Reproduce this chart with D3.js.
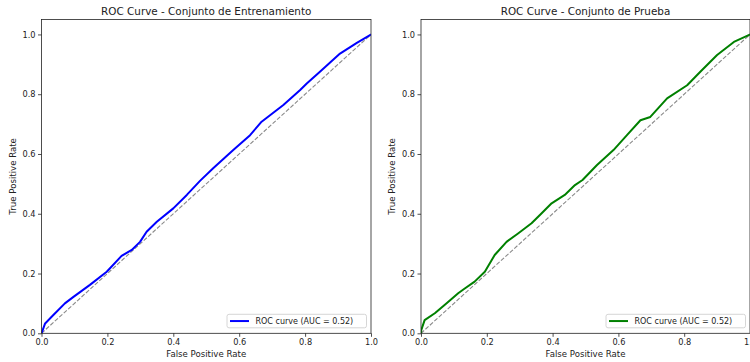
<!DOCTYPE html>
<html>
<head>
<meta charset="utf-8">
<script src="https://cdn.jsdelivr.net/npm/d3@7"></script>
<style>
  html, body { margin: 0; padding: 0; background: #fff; }
  svg { display: block; }
  text { font-family: "DejaVu Sans", sans-serif; fill: #222; }
</style>
</head>
<body>
<svg id="chart" width="750" height="362"></svg>
<script>
// ROC curve, training set
const trainFpr = [0, 0.011, 0.036, 0.071, 0.097, 0.147, 0.198, 0.243, 0.274, 0.299, 0.319, 0.350, 0.400, 0.441, 0.481,
                  0.521, 0.582, 0.633, 0.668, 0.734, 0.785, 0.805, 0.845, 0.906, 0.957, 0.997, 1.0];
const trainTpr = [0, 0.033, 0.061, 0.100, 0.122, 0.162, 0.206, 0.259, 0.279, 0.306, 0.340, 0.373, 0.418, 0.463, 0.510,
                  0.552, 0.613, 0.663, 0.708, 0.764, 0.814, 0.836, 0.875, 0.936, 0.972, 0.998, 1.0];

// ROC curve, test set
const testFpr = [0, 0.001, 0.011, 0.042, 0.077, 0.113, 0.133, 0.163, 0.194, 0.224, 0.260, 0.295, 0.336, 0.366, 0.397,
                 0.437, 0.468, 0.491, 0.535, 0.585, 0.626, 0.667, 0.697, 0.748, 0.809, 0.849, 0.900, 0.951, 0.996, 1.0];
const testTpr = [0, 0.011, 0.044, 0.067, 0.100, 0.134, 0.150, 0.173, 0.206, 0.262, 0.306, 0.334, 0.368, 0.401, 0.435,
                 0.463, 0.496, 0.513, 0.563, 0.613, 0.663, 0.713, 0.724, 0.786, 0.830, 0.875, 0.931, 0.975, 0.998, 1.0];

const aucValues = [0.52, 0.52];
const panelTitles = ["ROC Curve - Conjunto de Entrenamiento", "ROC Curve - Conjunto de Prueba"];
const tickValues = [0, 0.2, 0.4, 0.6, 0.8, 1.0];
const xLabel = "False Positive Rate";
const yLabel = "True Positive Rate";

const svg = d3.select("#chart");

const panels = [
  { left: 41.5, right: 371, fpr: trainFpr, tpr: trainTpr, color: "#0000ff", title: panelTitles[0], auc: aucValues[0] },
  { left: 421,  right: 750, fpr: testFpr,  tpr: testTpr,  color: "#008000", title: panelTitles[1], auc: aucValues[1] }
];
const plotTop = 19.5, plotBottom = 333.3;

panels.forEach(p => {
  const x = d3.scaleLinear().domain([0, 1]).range([p.left, p.right]);
  const y = d3.scaleLinear().domain([0, 1.05]).range([plotBottom, plotTop]);
  const g = svg.append("g");

  // chance diagonal
  g.append("line")
    .attr("x1", x(0)).attr("y1", y(0)).attr("x2", x(1)).attr("y2", y(1))
    .attr("stroke", "#8a8a8a").attr("stroke-width", 1.1)
    .attr("stroke-dasharray", "4.2,1.8");

  // ROC curve
  const pts = p.fpr.map((f, i) => [f, p.tpr[i]]);
  const clipId = "clip" + Math.round(p.left);
  svg.append("clipPath").attr("id", clipId).append("rect")
    .attr("x", p.left).attr("y", plotTop).attr("width", p.right - p.left).attr("height", plotBottom - plotTop);
  g.append("path")
    .attr("clip-path", `url(#${clipId})`)
    .attr("d", d3.line().x(d => x(d[0])).y(d => y(d[1]))(pts))
    .attr("fill", "none").attr("stroke", p.color).attr("stroke-width", 2)
    .attr("stroke-linejoin", "round");

  // axes
  const xAxis = g.append("g").attr("transform", `translate(0,${plotBottom})`)
    .call(d3.axisBottom(x).tickValues(tickValues).tickFormat(d3.format(".1f")).tickSize(3.5).tickPadding(2.5));
  const yAxis = g.append("g").attr("transform", `translate(${p.left},0)`)
    .call(d3.axisLeft(y).tickValues(tickValues).tickFormat(d3.format(".1f")).tickSize(3.5).tickPadding(2.5));
  [xAxis, yAxis].forEach(a => {
    a.select(".domain").remove();
    a.selectAll(".tick line").attr("stroke", "#222").attr("stroke-width", 0.8);
    a.selectAll(".tick text").attr("font-size", 8.2).attr("fill", "#222")
      .attr("font-family", "DejaVu Sans, sans-serif");
  });

  // frame
  g.append("rect")
    .attr("x", p.left).attr("y", plotTop).attr("width", p.right - p.left).attr("height", plotBottom - plotTop)
    .attr("fill", "none").attr("stroke", "#222").attr("stroke-width", 0.8);

  // title and labels
  g.append("text").attr("x", (p.left + p.right) / 2).attr("y", 14.5)
    .attr("text-anchor", "middle").attr("font-size", 10.4).text(p.title);
  g.append("text").attr("x", (p.left + p.right) / 2).attr("y", 357)
    .attr("text-anchor", "middle").attr("font-size", 8.6).text(xLabel);
  g.append("text")
    .attr("transform", `translate(${p.left - 26},${(plotTop + plotBottom) / 2}) rotate(-90)`)
    .attr("text-anchor", "middle").attr("font-size", 8.6).text(yLabel);

  // legend
  const lw = 139.5, lh = 13.5;
  const lx = p.right - 4.5 - lw, ly = plotBottom - 5.5 - lh;
  const leg = g.append("g");
  leg.append("rect").attr("x", lx).attr("y", ly).attr("width", lw).attr("height", lh)
    .attr("rx", 2).attr("fill", "#fff").attr("fill-opacity", 0.85)
    .attr("stroke", "#cccccc").attr("stroke-width", 0.8);
  leg.append("line").attr("x1", lx + 3).attr("x2", lx + 22).attr("y1", ly + lh / 2).attr("y2", ly + lh / 2)
    .attr("stroke", p.color).attr("stroke-width", 2);
  leg.append("text").attr("x", lx + 28.5).attr("y", ly + lh / 2 + 3)
    .attr("font-size", 8).text(`ROC curve (AUC = ${p.auc.toFixed(2)})`);
});
</script>
</body>
</html>
